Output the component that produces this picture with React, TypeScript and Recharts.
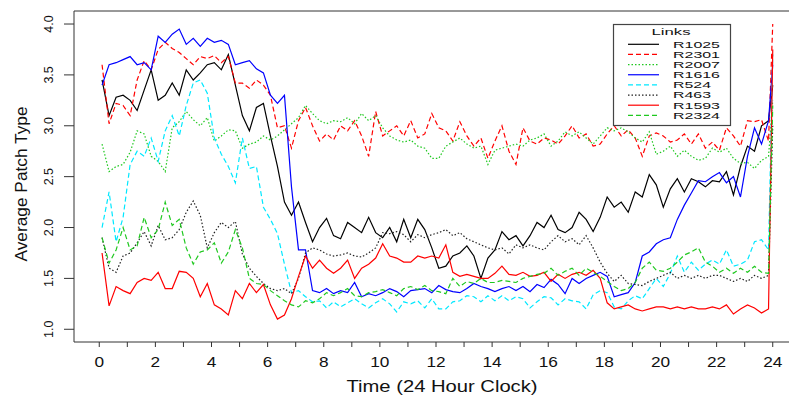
import React from "react";
import { LineChart, Line, XAxis, YAxis, ReferenceLine } from "recharts";

const HOURS = [0.1,0.35,0.6,0.85,1.1,1.35,1.6,1.85,2.1,2.35,2.6,2.85,3.1,3.35,3.6,3.85,4.1,4.35,4.6,4.85,5.1,5.35,5.6,5.85,6.1,6.35,6.6,6.85,7.1,7.35,7.6,7.85,8.1,8.35,8.6,8.85,9.1,9.35,9.6,9.85,10.1,10.35,10.6,10.85,11.1,11.35,11.6,11.85,12.1,12.35,12.6,12.85,13.1,13.35,13.6,13.85,14.1,14.35,14.6,14.85,15.1,15.35,15.6,15.85,16.1,16.35,16.6,16.85,17.1,17.35,17.6,17.85,18.1,18.35,18.6,18.85,19.1,19.35,19.6,19.85,20.1,20.35,20.6,20.85,21.1,21.35,21.6,21.85,22.1,22.35,22.6,22.85,23.1,23.35,23.6,23.85,24.0];

const R1025 = [3.45,3.1,3.28,3.3, 3.25,3.15,3.35,3.55, 3.25,3.3,3.42,3.3, 3.55,3.45,3.52,3.6, 3.62,3.55,3.7,3.4, 3.1,2.95,3.18,3.22, 2.9,2.6,2.25,2.12, 2.25,2.05,1.86,2.0, 2.09,1.92,1.89,2.05, 2.0,1.95,2.1,1.95, 1.9,2.0,1.86,2.08, 1.9,2.08,1.98,1.8, 1.6,1.62,1.72,1.75, 1.82,1.72,1.5,1.7, 1.78,1.96,1.88,1.92, 1.82,1.92,2.05,2.0, 2.12,1.98,1.95,2.0, 2.15,2.08,1.96,2.1, 2.3,2.2,2.25,2.15, 2.35,2.3,2.52,2.42, 2.2,2.38,2.48,2.35, 2.48,2.45,2.4,2.46, 2.45,2.55,2.32,2.6, 2.8,2.75,3.0,3.05, 3.4];
const R2301 = [3.6,3.02,3.22,3.2, 3.1,3.45,3.64,3.55, 3.75,3.82,3.76,3.72, 3.66,3.6,3.68,3.66, 3.69,3.62,3.68,3.42, 3.42,3.37,3.45,3.4, 3.3,2.98,3.0,2.78, 3.05,3.18,3.0,2.85, 2.92,2.86,3.0,2.95, 3.05,2.9,2.7,3.14, 2.9,2.95,3.0,2.9, 3.05,2.88,2.92,3.12, 2.98,2.95,2.85,3.04, 2.9,2.8,2.88,2.68, 2.85,3.0,2.75,2.62, 2.98,2.85,2.82,2.88, 2.86,2.82,2.9,3.0, 2.88,2.92,2.8,2.82, 2.92,3.0,2.9,2.96, 2.88,2.7,2.9,2.93, 2.9,2.84,2.86,2.92, 2.82,2.92,2.78,2.84, 2.76,2.98,2.9,2.8, 3.05,3.04,3.06,2.85, 4.0];
const R2007 = [2.82,2.55,2.6,2.62, 2.74,2.95,2.92,2.7, 2.65,2.55,2.98,3.04, 3.14,3.06,3.0,3.08, 2.85,2.9,2.96,2.95, 2.78,2.82,2.84,2.9, 2.86,2.9,2.96,3.02, 3.08,3.2,3.12,3.05, 3.02,3.05,3.04,3.08, 3.02,3.12,3.05,3.1, 2.98,2.9,2.86,2.84, 2.86,2.8,2.78,2.68, 2.68,2.8,2.84,2.88, 2.82,2.78,2.8,2.62, 2.76,2.78,2.8,2.82, 2.8,2.86,2.88,2.92, 2.8,2.85,2.94,2.9, 2.94,2.88,2.82,2.9, 2.98,2.95,2.98,2.94, 2.88,2.84,2.94,2.72, 2.75,2.8,2.7,2.76, 2.7,2.66,2.68,2.78, 2.74,2.78,2.68,2.63, 2.64,2.58,2.66,2.7, 3.25];
const R1616 = [3.4,3.6,3.62,3.65, 3.68,3.6,3.62,3.55, 3.88,3.82,3.9,3.95, 3.8,3.86,3.78,3.86, 3.82,3.84,3.8,3.6, 3.62,3.64,3.56,3.52, 3.3,3.22,3.3,2.4, 1.78,1.78,1.38,1.36, 1.4,1.35,1.38,1.36, 1.46,1.32,1.35,1.33, 1.36,1.4,1.37,1.32, 1.38,1.39,1.4,1.36, 1.43,1.39,1.37,1.36, 1.4,1.45,1.42,1.4, 1.37,1.4,1.42,1.38, 1.42,1.37,1.44,1.41, 1.49,1.44,1.35,1.5, 1.45,1.5,1.53,1.56, 1.52,1.32,1.34,1.36, 1.46,1.72,1.76,1.84, 1.88,1.9,2.08,2.22, 2.34,2.46,2.45,2.5, 2.54,2.44,2.5,2.3, 2.7,2.98,2.82,3.05, 3.6];
const R524 = [2.0,2.35,1.86,2.1, 2.62,2.75,2.7,2.88, 2.65,2.95,3.1,2.9, 3.2,3.42,3.45,3.32, 2.88,2.72,2.6,2.44, 2.88,2.58,2.6,2.2, 2.08,1.94,1.64,1.36, 1.38,1.32,1.27,1.28, 1.21,1.27,1.22,1.26, 1.3,1.25,1.21,1.26, 1.3,1.25,1.17,1.27, 1.25,1.28,1.21,1.3, 1.2,1.2,1.27,1.28, 1.33,1.32,1.27,1.33, 1.28,1.33,1.28,1.32, 1.3,1.21,1.27,1.32, 1.31,1.24,1.3,1.28, 1.27,1.2,1.34,1.38, 1.36,1.22,1.2,1.28, 1.33,1.3,1.4,1.5, 1.42,1.55,1.72,1.56, 1.66,1.58,1.64,1.68, 1.64,1.78,1.62,1.64, 1.68,1.86,1.88,1.78, 3.7];
const R463 = [1.9,1.6,1.56,1.72, 1.75,1.85,1.96,1.82, 2.02,1.88,1.9,1.98, 2.15,2.26,2.12,1.8, 1.95,2.05,2.0,2.06, 1.74,1.6,1.52,1.45, 1.4,1.38,1.4,1.35, 1.5,1.75,1.8,1.78, 1.74,1.72,1.73,1.75, 1.72,1.71,1.75,1.8, 1.95,1.94,1.96,1.93, 1.86,1.93,1.9,1.93, 1.95,1.98,1.92,1.95, 1.89,1.86,1.83,1.8, 1.78,1.8,1.74,1.83, 1.8,1.83,1.8,1.78, 1.86,1.92,1.86,1.89, 1.83,1.92,1.8,1.66, 1.55,1.47,1.53,1.45, 1.44,1.43,1.47,1.5, 1.53,1.56,1.5,1.53, 1.5,1.53,1.5,1.53, 1.53,1.5,1.47,1.5, 1.47,1.53,1.5,1.53, 3.0];
const R1593 = [1.75,1.23,1.42,1.38, 1.35,1.46,1.5,1.48, 1.56,1.4,1.4,1.57, 1.56,1.5,1.32,1.45, 1.24,1.2,1.14,1.38, 1.3,1.45,1.36,1.44, 1.24,1.1,1.14,1.3, 1.52,1.72,1.6,1.68, 1.6,1.55,1.6,1.68, 1.5,1.6,1.64,1.7, 1.84,1.72,1.7,1.66, 1.66,1.72,1.7,1.72, 1.7,1.83,1.56,1.52, 1.54,1.52,1.5,1.5, 1.55,1.62,1.54,1.53, 1.56,1.52,1.53,1.56, 1.47,1.54,1.5,1.54, 1.56,1.53,1.58,1.5, 1.26,1.2,1.22,1.24, 1.2,1.18,1.2,1.22, 1.22,1.2,1.22,1.2, 1.22,1.2,1.2,1.22, 1.2,1.24,1.15,1.2, 1.24,1.21,1.16,1.2, 3.75];
const R2324 = [1.9,1.65,1.78,2.0, 1.78,1.82,2.1,1.9, 1.98,2.25,2.02,2.08, 1.8,1.64,1.76,1.78, 1.85,1.65,1.76,1.98, 1.8,1.5,1.45,1.44, 1.38,1.33,1.28,1.24, 1.22,1.28,1.26,1.3, 1.36,1.33,1.36,1.4, 1.33,1.32,1.36,1.37, 1.39,1.36,1.33,1.4, 1.42,1.39,1.43,1.38, 1.37,1.35,1.5,1.42, 1.47,1.45,1.5,1.46, 1.46,1.48,1.47,1.46, 1.5,1.52,1.54,1.55, 1.6,1.53,1.57,1.6, 1.53,1.6,1.56,1.52, 1.47,1.42,1.38,1.4, 1.46,1.6,1.66,1.58, 1.57,1.6,1.66,1.73, 1.76,1.8,1.66,1.62, 1.56,1.6,1.55,1.6, 1.56,1.62,1.56,1.55, 3.2];

const X_TICKS = [0,1,2,3,4,5,6,7,8,9,10,11,12,13,14,15,16,17,18,19,20,21,22,23,24];
const Y_TICKS = [1.0, 1.5, 2.0, 2.5, 3.0, 3.5, 4.0];
const LINK_NAMES = ["R1025","R2301","R2007","R1616","R524","R463","R1593","R2324"];

const SERIES: Record<string, number[]> = { R1025, R2301, R2007, R1616, R524, R463, R1593, R2324 };

const STYLES: Record<string, { color: string; dash?: string }> = {
  R1025: { color: "#000000" },
  R2301: { color: "#ff0000", dash: "5 3" },
  R2007: { color: "#1fc81f", dash: "1.5 2" },
  R1616: { color: "#0000ff" },
  R524: { color: "#00e8ff", dash: "5 3" },
  R463: { color: "#202020", dash: "1.5 2" },
  R1593: { color: "#ff0000" },
  R2324: { color: "#1fc81f", dash: "5 3" },
};

const rows = HOURS.map((t, i) => {
  const r: Record<string, number> = { t };
  LINK_NAMES.forEach((n) => { r[n] = SERIES[n][i]; });
  return r;
});

const FONT = "'Liberation Sans', Arial, Helvetica, sans-serif";

const XTick = (props: any) => {
  const { x, payload } = props;
  const v = payload.value as number;
  if (v % 2 !== 0) return <g />;
  const s = String(v);
  return (
    <text x={x} y={367} textAnchor="middle" fontSize={14.5} fontFamily={FONT} fill="#111"
      textLength={s.length * 9.6} lengthAdjust="spacingAndGlyphs">{s}</text>
  );
};

const YTick = (props: any) => {
  const { y, payload } = props;
  const s = (payload.value as number).toFixed(1);
  return (
    <text x={49} y={y} transform={`rotate(-90, 49, ${y})`} textAnchor="middle" dominantBaseline="central"
      fontSize={12.5} fontFamily={FONT} fill="#111">{s}</text>
  );
};

const legendWidth = (n: string) => (n.length === 5 ? 47 : 38);

export default function App() {
  return (
    <div style={{ position: "absolute", left: 0, top: 0, width: 789, height: 397, overflow: "hidden", background: "#fff" }}>
      <LineChart width={812} height={397} data={rows} margin={{ top: 11, right: 14, bottom: 0, left: 0 }}>
        <XAxis type="number" dataKey="t" domain={[-0.9, 24.9]} allowDataOverflow ticks={X_TICKS} interval={0}
          tick={<XTick />} tickSize={5} height={55} stroke="#333" tickLine={{ stroke: "#333" }} />
        <YAxis type="number" domain={[0.875, 4.128]} allowDataOverflow ticks={Y_TICKS} interval={0}
          tick={<YTick />} tickSize={10} width={74} stroke="#333" tickLine={{ stroke: "#333" }} />
        <ReferenceLine y={4.128} stroke="#333" strokeWidth={1} ifOverflow="visible" />
        {LINK_NAMES.map((n) => (
          <Line key={n} type="linear" dataKey={n} stroke={STYLES[n].color} strokeDasharray={STYLES[n].dash}
            strokeWidth={1.2} dot={false} activeDot={false} isAnimationActive={false} />
        ))}
      </LineChart>
      <svg width={789} height={397} style={{ position: "absolute", left: 0, top: 0, pointerEvents: "none" }}>
        <text x={442} y={392} textAnchor="middle" fontSize={16} fontFamily={FONT} fill="#111"
          textLength={191} lengthAdjust="spacingAndGlyphs">Time (24 Hour Clock)</text>
        <text x={27} y={184} transform="rotate(-90, 27, 184)" textAnchor="middle" fontSize={16.5} fontFamily={FONT} fill="#111"
          textLength={155} lengthAdjust="spacingAndGlyphs">Average Patch Type</text>
        <rect x={613.5} y={24.5} width={117} height={101} fill="#fff" stroke="#444" strokeWidth={1.2} />
        <text x={671} y={34.5} textAnchor="middle" fontSize={8.8} fontFamily={FONT} fill="#111"
          textLength={39} lengthAdjust="spacingAndGlyphs">Links</text>
        {LINK_NAMES.map((n, i) => {
          const yy = 44.3 + i * 10.15;
          return (
            <g key={n}>
              <line x1={628} x2={659} y1={yy} y2={yy} stroke={STYLES[n].color} strokeDasharray={STYLES[n].dash} strokeWidth={1.2} />
              <text x={673} y={yy + 3.3} fontSize={8.8} fontFamily={FONT} fill="#111"
                textLength={legendWidth(n)} lengthAdjust="spacingAndGlyphs">{n}</text>
            </g>
          );
        })}
      </svg>
    </div>
  );
}
